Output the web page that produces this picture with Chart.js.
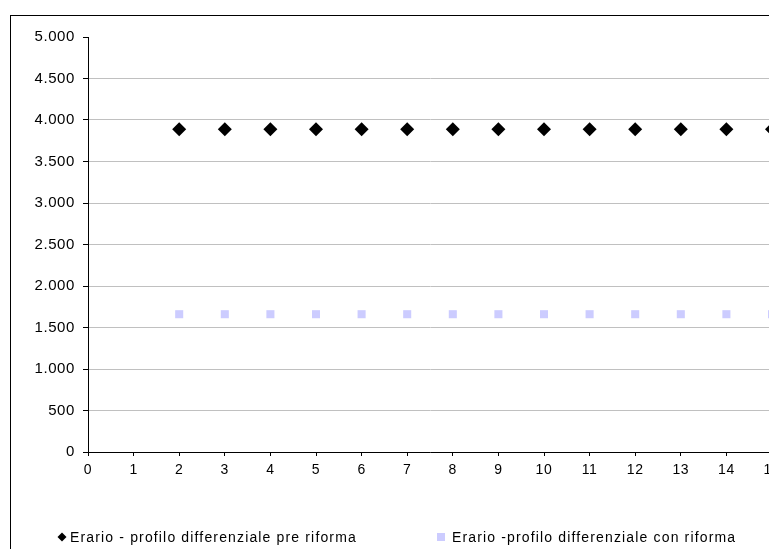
<!DOCTYPE html>
<html>
<head>
<meta charset="utf-8">
<script src="https://cdn.jsdelivr.net/npm/chart.js@4/dist/chart.umd.min.js"></script>
<style>
    html, body {
        margin: 0;
        padding: 0;
        width: 769px;
        height: 549px;
        overflow: hidden;
        background: #fff;
        font-family: "Liberation Sans", Arial, sans-serif;
    }
    #frame {
        position: absolute;
        left: 10px;
        top: 15px;
        width: 800px;
        height: 600px;
        border: 1px solid #000;
    }
    #chartBox {
        position: absolute;
        left: 0;
        top: 0;
        width: 790px;
        height: 549px;
    }
    .legend-item {
        position: absolute;
        top: 528px;
        font-size: 14px;
        letter-spacing: 1.15px;
        line-height: 18px;
        color: #000;
        white-space: nowrap;
    }
    .mark {
        position: absolute;
        top: 5px;
        width: 8px;
        height: 8px;
    }
</style>
</head>
<body>
<div id="frame"></div>
<div id="chartBox"><canvas id="myChart" width="790" height="549"></canvas></div>
<div class="legend-item" style="left:70px"><span class="mark" id="mark1" style="left:-12px"></span><span id="lab1"></span></div>
<div class="legend-item" style="left:452px"><span class="mark" id="mark2" style="left:-15px"></span><span id="lab2"></span></div>
<script>
    // values
    const xValues = [2, 3, 4, 5, 6, 7, 8, 9, 10, 11, 12, 13, 14, 15];
    const preRiforma = [3890, 3890, 3890, 3890, 3890, 3890, 3890, 3890, 3890, 3890, 3890, 3890, 3890, 3890];
    const conRiforma = [1660, 1660, 1660, 1660, 1660, 1660, 1660, 1660, 1660, 1660, 1660, 1660, 1660, 1660];
    const seriesLabels = ["Erario - profilo differenziale pre riforma", "Erario -profilo differenziale con riforma"];
    const seriesColors = ["#000000", "#ccccff"];
    const xTicks = [0, 15, 1];      // min, max, step
    const yTicks = [0, 5000, 500];  // min, max, step

    const toPoints = (ys) => xValues.map((x, i) => ({x: x, y: ys[i]}));

    const dotted = (v) => String(v).replace(/\B(?=(\d{3})+(?!\d))/g, ".");

    // html legend
    document.getElementById("lab1").textContent = seriesLabels[0];
    document.getElementById("lab2").textContent = seriesLabels[1];
    const m1 = document.getElementById("mark1");
    m1.style.background = seriesColors[0];
    m1.style.transform = "rotate(45deg) scale(0.8)";
    document.getElementById("mark2").style.background = seriesColors[1];

    const fontFamily = "'Liberation Sans', Arial, sans-serif";

    const spacing = {
        id: "spacing",
        beforeDraw(chart) {
            chart.ctx.letterSpacing = "0.6px";
        }
    };

    new Chart(document.getElementById("myChart").getContext("2d"), {
        type: "scatter",
        data: {
            datasets: [{
                label: seriesLabels[0],
                data: toPoints(preRiforma),
                pointStyle: "rectRot",
                pointRadius: 7,
                pointBorderWidth: 0,
                backgroundColor: seriesColors[0],
                borderColor: seriesColors[0]
            }, {
                label: seriesLabels[1],
                data: toPoints(conRiforma),
                pointStyle: "rect",
                pointRadius: 5.7,
                pointBorderWidth: 0,
                backgroundColor: seriesColors[1],
                borderColor: seriesColors[1]
            }]
        },
        options: {
            responsive: false,
            animation: false,
            events: [],
            layout: {
                padding: {left: 0, top: 37, right: 18, bottom: 72}
            },
            plugins: {
                legend: {display: false},
                tooltip: {enabled: false}
            },
            scales: {
                x: {
                    type: "linear",
                    min: xTicks[0],
                    max: xTicks[1],
                    afterFit: (scale) => { scale.height = 25 },
                    ticks: {
                        stepSize: xTicks[2],
                        color: "#000",
                        font: {family: fontFamily, size: 14},
                        padding: 6,
                        maxRotation: 0
                    },
                    grid: {
                        drawOnChartArea: false,
                        tickLength: 4,
                        tickColor: "#000"
                    },
                    border: {color: "#000", width: 1}
                },
                y: {
                    min: yTicks[0],
                    max: yTicks[1],
                    afterFit: (scale) => { scale.width = 88 },
                    ticks: {
                        stepSize: yTicks[2],
                        color: "#000",
                        font: {family: fontFamily, size: 15},
                        padding: 8,
                        callback: (v) => dotted(v)
                    },
                    grid: {
                        color: (ctx) => ctx.tick && ctx.tick.value === yTicks[1] ? "rgba(0,0,0,0)" : "#c0c0c0",
                        tickColor: "#000",
                        tickLength: 5
                    },
                    border: {color: "#000", width: 1}
                }
            }
        },
        plugins: [spacing]
    });
</script>
</body>
</html>
